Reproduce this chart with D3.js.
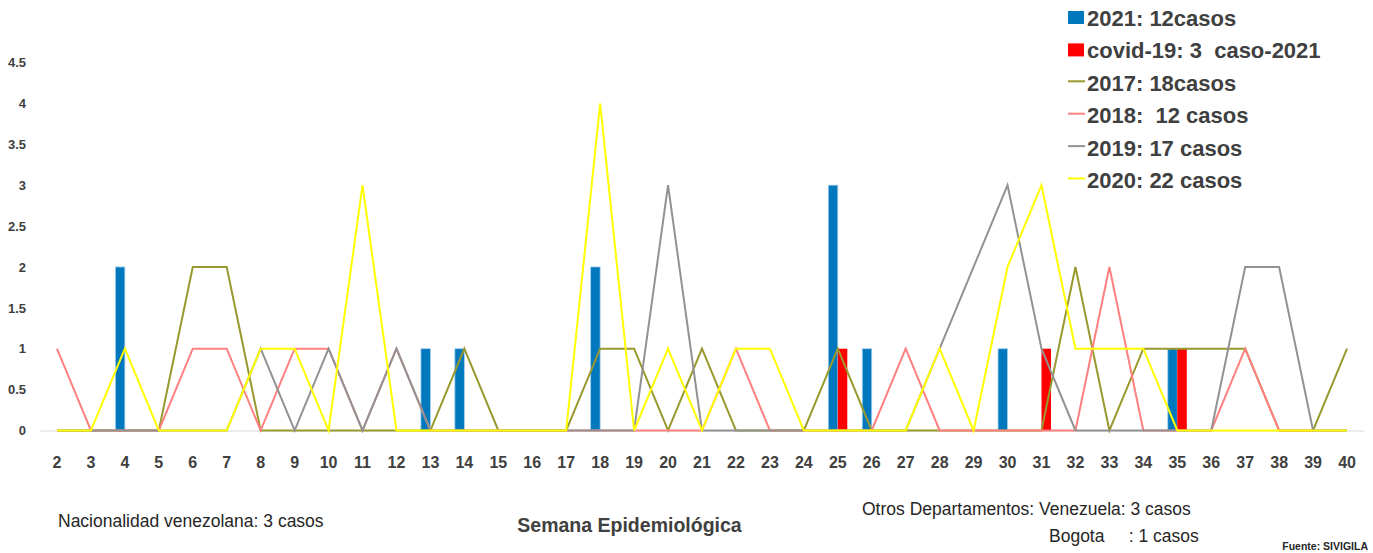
<!DOCTYPE html>
<html>
<head>
<meta charset="utf-8">
<script src="https://cdn.jsdelivr.net/npm/d3@7"></script>
<style>
  html, body { margin: 0; padding: 0; background: #ffffff; }
  svg { display: block; font-family: "Liberation Sans", Arial, sans-serif; }
  text { white-space: pre; }
</style>
</head>
<body>
<svg id="chart" width="1373" height="553"></svg>
<script>
// ---- data ----
const weeks = [2,3,4,5,6,7,8,9,10,11,12,13,14,15,16,17,18,19,20,21,22,23,24,25,26,27,28,29,30,31,32,33,34,35,36,37,38,39,40];
const yTicks = [0,0.5,1,1.5,2,2.5,3,3.5,4,4.5];

const cases2021  = [0,0,2,0,0,0,0,0,0,0,0,1,1,0,0,0,2,0,0,0,0,0,0,3,1,0,0,0,1,0,0,0,0,1,0,0,0,0,0];
const covid2021  = [0,0,0,0,0,0,0,0,0,0,0,0,0,0,0,0,0,0,0,0,0,0,0,1,0,0,0,0,0,1,0,0,0,1,0,0,0,0,0];
const cases2017  = [0,0,0,0,2,2,0,0,0,0,0,0,1,0,0,0,1,1,0,1,0,0,0,1,0,0,0,0,0,0,2,0,1,1,1,1,0,0,1];
const cases2018  = [1,0,0,0,1,1,0,1,1,0,1,0,0,0,0,0,0,0,0,0,1,0,0,0,0,1,0,0,0,0,0,2,0,0,0,1,0,0,0];
const cases2019  = [0,0,0,0,0,0,1,0,1,0,1,0,0,0,0,0,0,0,3,0,0,0,0,0,0,0,1,2,3,1,0,0,0,0,0,2,2,0,0];
const cases2020  = [0,0,1,0,0,0,1,1,0,3,0,0,0,0,0,0,4,0,1,0,1,1,0,0,0,0,1,0,2,3,1,1,1,0,0,0,0,0,0];

const barSeries = [
  {name: "2021: 12casos", values: cases2021, color: "#0078BE"},
  {name: "covid-19: 3  caso-2021", values: covid2021, color: "#FF0000"}
];
const lineSeries = [
  {name: "2017: 18casos", values: cases2017, color: "#99992F"},
  {name: "2018:  12 casos", values: cases2018, color: "#FF8080"},
  {name: "2019: 17 casos", values: cases2019, color: "#929292"},
  {name: "2020: 22 casos", values: cases2020, color: "#FFFF00"}
];

// ---- layout ----
const svg = d3.select("#chart");
svg.append("rect").attr("width", 1373).attr("height", 553).attr("fill", "#ffffff");

const x = d3.scaleBand().domain(weeks).range([40, 1364]).paddingInner(0.44).paddingOuter(0.22);
const y = d3.scaleLinear().domain([0, 4.5]).range([430.5, 62.5]);
const x1 = d3.scaleBand().domain(barSeries.map(s => s.name)).range([0, x.bandwidth()]);
const cx = w => x(w) + x.bandwidth() / 2;

// x axis
const xAxis = svg.append("g").attr("transform", "translate(0,430.5)")
  .call(d3.axisBottom(x).tickSize(0).tickPadding(0));
xAxis.select(".domain").attr("stroke", "#d9d9d9").attr("stroke-width", 1.2);
xAxis.selectAll("text")
  .attr("y", 37).attr("dy", 0)
  .attr("font-size", 16).attr("font-weight", "bold").attr("fill", "#404040")
  .attr("font-family", "Liberation Sans, Arial, sans-serif");

// y axis
const yAxis = svg.append("g").attr("transform", "translate(26,0)")
  .call(d3.axisLeft(y).tickValues(yTicks).tickFormat(d3.format("")).tickSize(0).tickPadding(0));
yAxis.select(".domain").remove();
yAxis.selectAll("text")
  .attr("font-size", 13).attr("font-weight", "bold").attr("fill", "#404040")
  .attr("font-family", "Liberation Sans, Arial, sans-serif");

// bars
barSeries.forEach(s => {
  svg.append("g").selectAll("rect")
    .data(weeks.map((w, i) => ({w, v: s.values[i]})).filter(d => d.v > 0))
    .join("rect")
    .attr("x", d => x(d.w) + x1(s.name))
    .attr("width", x1.bandwidth())
    .attr("y", d => y(d.v))
    .attr("height", d => y(0) - y(d.v))
    .attr("fill", s.color)
    .attr("stroke", s.name.startsWith("2021") ? "#a8d0ee" : "none")
    .attr("stroke-width", 0.8);
});

// lines
const line = d3.line().x(d => cx(d.w)).y(d => y(d.v));
lineSeries.forEach(s => {
  svg.append("path")
    .datum(weeks.map((w, i) => ({w, v: s.values[i]})))
    .attr("d", line)
    .attr("fill", "none")
    .attr("stroke", s.color)
    .attr("stroke-width", 2)
    .attr("stroke-linejoin", "miter");
});

// legend
const legend = svg.append("g");
const legendItems = barSeries.map(s => ({...s, type: "bar"})).concat(lineSeries.map(s => ({...s, type: "line"})));
legendItems.forEach((s, i) => {
  const base = 26 + i * 32.4;
  if (s.type === "bar") {
    legend.append("rect").attr("x", 1068).attr("y", base - 15).attr("width", 16).attr("height", 13).attr("fill", s.color);
  } else {
    legend.append("line").attr("x1", 1068).attr("x2", 1085).attr("y1", base - 9.5).attr("y2", base - 9.5)
      .attr("stroke", s.color).attr("stroke-width", 2);
  }
  legend.append("text").attr("x", 1087).attr("y", base)
    .attr("font-size", 22).attr("font-weight", "bold").attr("fill", "#404040")
    .text(s.name);
});

// annotations
svg.append("text").attr("x", 58).attr("y", 527).attr("font-size", 17.5).attr("fill", "#262626")
  .text("Nacionalidad venezolana: 3 casos");
svg.append("text").attr("x", 629.5).attr("y", 532).attr("text-anchor", "middle")
  .attr("font-size", 19.5).attr("font-weight", "bold").attr("fill", "#404040")
  .text("Semana Epidemiológica");
svg.append("text").attr("x", 862).attr("y", 515).attr("font-size", 17.5).attr("fill", "#262626")
  .text("Otros Departamentos: Venezuela: 3 casos");
svg.append("text").attr("x", 1049).attr("y", 542).attr("font-size", 17.5).attr("fill", "#262626")
  .text("Bogota     : 1 casos");
svg.append("text").attr("x", 1368).attr("y", 550).attr("text-anchor", "end")
  .attr("font-size", 10.5).attr("font-weight", "bold").attr("fill", "#262626")
  .text("Fuente: SIVIGILA");
</script>
</body>
</html>
